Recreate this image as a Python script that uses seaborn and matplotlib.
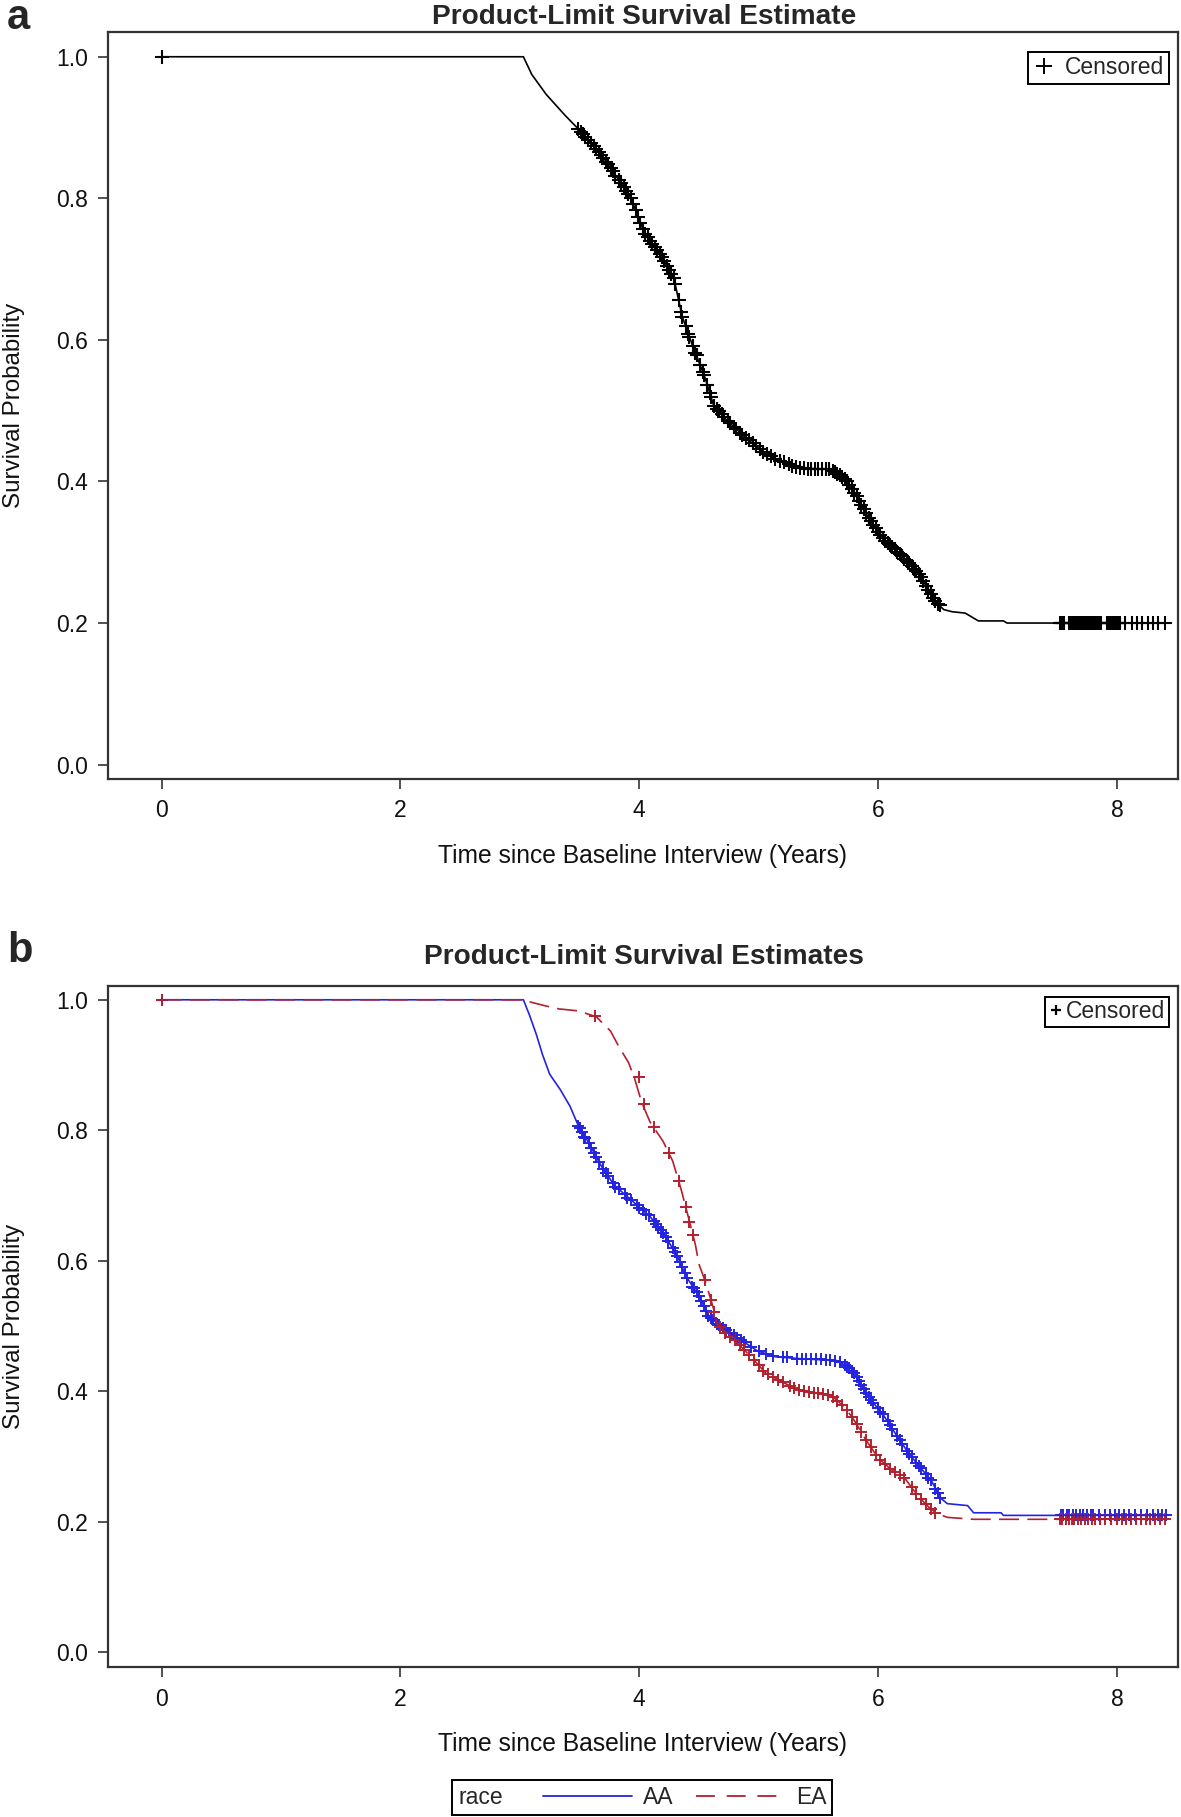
import numpy as np
import matplotlib
matplotlib.use("Agg")
import matplotlib.pyplot as plt
import seaborn as sns
from matplotlib.lines import Line2D
from matplotlib.offsetbox import HPacker

# ---- panel a: overall Kaplan-Meier estimate ----
time_a = [0, 3.03, 3.10, 3.22, 3.38, 3.49, 3.60, 3.71, 3.82, 3.93, 4.04, 4.18, 4.29, 4.36,
          4.44, 4.55, 4.62, 4.73, 4.87, 5.02, 5.16, 5.35, 5.60, 5.71, 5.82, 5.93, 6.07, 6.25,
          6.36, 6.47, 6.55, 6.62, 6.73, 6.80, 6.84, 7.05, 7.08, 8.41]
surv_a = [1.0, 1.0, 0.975, 0.947, 0.917, 0.898, 0.878, 0.855, 0.828, 0.801, 0.752, 0.720, 0.687, 0.633,
          0.595, 0.547, 0.509, 0.487, 0.465, 0.444, 0.430, 0.419, 0.417, 0.406, 0.379, 0.346, 0.314, 0.287,
          0.265, 0.232, 0.219, 0.216, 0.214, 0.207, 0.203, 0.203, 0.200, 0.200]

# censored observations, panel a
cens_a_t = [0, 3.49, 3.53, 3.57, 3.62, 3.66, 3.70, 3.74, 3.78, 3.83, 3.87, 3.91, 3.95, 3.99, 4.03,
            4.07, 4.11, 4.15, 4.19, 4.23, 4.27, 4.30, 4.33, 4.36, 4.39, 4.42, 4.45, 4.48, 4.51,
            4.54, 4.57, 4.60, 4.63, 4.67, 4.71, 4.76, 4.81, 4.86, 4.92, 4.98, 5.04, 5.10, 5.18,
            5.25, 5.31, 5.38, 5.44, 5.50, 5.56, 5.62, 5.66, 5.70, 5.74, 5.78, 5.82, 5.86, 5.90,
            5.94, 5.98, 6.02, 6.06, 6.10, 6.14, 6.18, 6.22, 6.26, 6.30, 6.34, 6.38, 6.42, 6.46,
            6.50,
            7.52, 7.54, 7.56, 7.60, 7.62, 7.64, 7.67, 7.70, 7.73, 7.76, 7.79, 7.82, 7.85, 7.87,
            7.92, 7.95, 7.98, 8.01, 8.03, 8.07, 8.13, 8.17, 8.21, 8.26, 8.30, 8.34, 8.40]
cens_a_s = [1.0, 0.898, 0.891, 0.883, 0.874, 0.865, 0.857, 0.848, 0.838, 0.826, 0.816, 0.806, 0.792, 0.774, 0.756,
            0.745, 0.736, 0.727, 0.717, 0.705, 0.693, 0.679, 0.656, 0.633, 0.619, 0.604, 0.591, 0.578, 0.564,
            0.551, 0.536, 0.520, 0.507, 0.499, 0.491, 0.482, 0.474, 0.466, 0.458, 0.450, 0.442, 0.436, 0.429,
            0.424, 0.421, 0.419, 0.418, 0.418, 0.417, 0.415, 0.411, 0.407, 0.400, 0.389, 0.379, 0.367, 0.355,
            0.344, 0.334, 0.325, 0.316, 0.310, 0.304, 0.298, 0.291, 0.285, 0.277, 0.269, 0.259, 0.247, 0.235,
            0.227,
            0.200, 0.200, 0.200, 0.200, 0.200, 0.200, 0.200, 0.200, 0.200, 0.200, 0.200, 0.200, 0.200, 0.200,
            0.200, 0.200, 0.200, 0.200, 0.200, 0.200, 0.200, 0.200, 0.200, 0.200, 0.200, 0.200, 0.200]
cens_a2_t = [3.51, 3.55, 3.60, 3.64, 3.68, 3.72, 3.76, 3.80, 3.85, 3.89, 3.93, 3.97, 4.01, 4.05,
             4.09, 4.13, 4.17, 4.21, 4.25, 4.29, 4.35, 4.41, 4.47, 4.53, 4.59, 4.65, 4.69, 4.74,
             4.79, 4.84, 4.89, 4.95, 5.01, 5.07, 5.14, 5.21, 5.28, 5.35, 5.41, 5.47, 5.53, 5.59,
             5.64, 5.68, 5.72, 5.76, 5.80, 5.84, 5.88, 5.92, 5.96, 6.00, 6.04, 6.08, 6.12, 6.16,
             6.20, 6.24, 6.28, 6.32, 6.36, 6.40, 6.44, 6.48, 6.52,
             7.53, 7.55, 7.61, 7.63, 7.66, 7.68, 7.69, 7.71, 7.72, 7.74, 7.75, 7.77, 7.78, 7.80,
             7.81, 7.83, 7.84, 7.86, 7.93, 7.94, 7.96, 7.97, 7.99, 8.00, 8.02]
cens_a2_s = [0.894, 0.887, 0.878, 0.870, 0.861, 0.852, 0.843, 0.832, 0.821, 0.811, 0.800, 0.783, 0.765, 0.750,
             0.740, 0.731, 0.722, 0.711, 0.699, 0.687, 0.640, 0.609, 0.582, 0.555, 0.525, 0.503, 0.495, 0.486,
             0.477, 0.469, 0.462, 0.454, 0.446, 0.439, 0.432, 0.427, 0.422, 0.419, 0.418, 0.418, 0.418, 0.417,
             0.413, 0.409, 0.404, 0.395, 0.384, 0.373, 0.361, 0.349, 0.339, 0.329, 0.320, 0.313, 0.307, 0.301,
             0.295, 0.288, 0.281, 0.273, 0.265, 0.253, 0.241, 0.231, 0.225,
             0.200, 0.200, 0.200, 0.200, 0.200, 0.200, 0.200, 0.200, 0.200, 0.200, 0.200, 0.200, 0.200, 0.200,
             0.200, 0.200, 0.200, 0.200, 0.200, 0.200, 0.200, 0.200, 0.200, 0.200, 0.200]

# ---- panel b: by race ----
time_aa = [0, 3.03, 3.08, 3.14, 3.19, 3.25, 3.34, 3.42, 3.49, 3.57, 3.68, 3.79, 3.94, 4.09, 4.20,
           4.32, 4.39, 4.50, 4.58, 4.69, 4.84, 4.99, 5.14, 5.36, 5.66, 5.78, 5.85, 5.93, 6.04, 6.15,
           6.26, 6.37, 6.45, 6.52, 6.58, 6.75, 6.80, 7.03, 7.05, 8.41]
surv_aa = [1.0, 1.0, 0.977, 0.946, 0.916, 0.886, 0.862, 0.837, 0.807, 0.783, 0.746, 0.716, 0.692, 0.668, 0.643,
           0.607, 0.577, 0.546, 0.516, 0.498, 0.480, 0.462, 0.453, 0.450, 0.447, 0.434, 0.413, 0.389, 0.365, 0.334,
           0.304, 0.280, 0.262, 0.237, 0.228, 0.225, 0.214, 0.214, 0.210, 0.210]

time_ea = [0, 3.03, 3.10, 3.23, 3.33, 3.49, 3.64, 3.76, 3.83, 3.91, 3.96, 4.02, 4.09, 4.20, 4.28,
           4.35, 4.41, 4.47, 4.50, 4.56, 4.62, 4.65, 4.73, 4.84, 4.95, 5.06, 5.21, 5.36, 5.59, 5.66,
           5.74, 5.81, 5.89, 6.00, 6.11, 6.22, 6.32, 6.41, 6.49, 6.58, 6.80, 8.41]
surv_ea = [1.0, 1.0, 0.996, 0.990, 0.986, 0.983, 0.974, 0.952, 0.928, 0.904, 0.880, 0.843, 0.813, 0.783, 0.753,
           0.710, 0.668, 0.625, 0.595, 0.565, 0.528, 0.504, 0.489, 0.471, 0.450, 0.428, 0.413, 0.401, 0.395, 0.386,
           0.371, 0.353, 0.328, 0.298, 0.280, 0.268, 0.243, 0.225, 0.213, 0.207, 0.204, 0.204]

cens_aa_t = [0, 3.49, 3.52, 3.55, 3.58, 3.62, 3.66, 3.70, 3.74, 3.78, 3.83, 3.88, 3.93, 3.98, 4.03,
             4.08, 4.12, 4.16, 4.20, 4.24, 4.28, 4.32, 4.36, 4.40, 4.44, 4.48, 4.52, 4.56, 4.60,
             4.65, 4.70, 4.76, 4.82, 4.88, 4.94, 5.00, 5.06, 5.12, 5.20, 5.24, 5.32, 5.36, 5.40,
             5.44, 5.48, 5.52, 5.56, 5.60, 5.64, 5.68, 5.72, 5.76, 5.80, 5.84, 5.88, 5.92, 5.96,
             6.00, 6.04, 6.08, 6.12, 6.16, 6.20, 6.24, 6.28, 6.32, 6.36, 6.40, 6.44, 6.48, 6.52,
             3.50, 3.54, 3.60, 3.64, 3.72, 3.80, 3.90, 4.00, 4.06, 4.14, 4.18, 4.22, 4.30, 4.34,
             4.38, 4.46, 4.50, 4.54, 4.58, 4.62, 4.67, 4.73, 4.79, 4.85, 5.74, 5.78, 5.82, 5.86,
             5.90, 5.94, 6.02, 6.10, 6.18, 6.26, 6.34, 6.42, 6.50,
             7.53, 7.55, 7.58, 7.60, 7.63, 7.66, 7.69, 7.72, 7.75, 7.78, 7.80, 7.85, 7.90, 7.94,
             7.98, 8.02, 8.06, 8.10, 8.15, 8.20, 8.25, 8.30, 8.34, 8.38, 8.41]
cens_aa_s = [1.0, 0.807, 0.797, 0.788, 0.780, 0.766, 0.752, 0.741, 0.730, 0.719, 0.710, 0.702, 0.694, 0.686, 0.678,
             0.670, 0.661, 0.652, 0.643, 0.631, 0.619, 0.607, 0.590, 0.573, 0.560, 0.552, 0.538, 0.523, 0.513,
             0.504, 0.497, 0.490, 0.482, 0.475, 0.468, 0.462, 0.458, 0.454, 0.452, 0.452, 0.450, 0.450, 0.450,
             0.449, 0.449, 0.449, 0.448, 0.448, 0.447, 0.445, 0.440, 0.436, 0.428, 0.416, 0.404, 0.392, 0.382,
             0.374, 0.365, 0.354, 0.342, 0.331, 0.320, 0.309, 0.300, 0.291, 0.282, 0.273, 0.264, 0.251, 0.237,
             0.804, 0.790, 0.773, 0.759, 0.735, 0.713, 0.697, 0.681, 0.672, 0.656, 0.648, 0.637, 0.613, 0.598,
             0.581, 0.558, 0.546, 0.531, 0.516, 0.509, 0.501, 0.494, 0.487, 0.479, 0.438, 0.432, 0.422, 0.410,
             0.398, 0.387, 0.369, 0.349, 0.326, 0.304, 0.286, 0.268, 0.244,
             0.210, 0.210, 0.210, 0.210, 0.210, 0.210, 0.210, 0.210, 0.210, 0.210, 0.210, 0.210, 0.210, 0.210,
             0.210, 0.210, 0.210, 0.210, 0.210, 0.210, 0.210, 0.210, 0.210, 0.210, 0.210]

cens_ea_t = [0, 3.63, 4.00, 4.04, 4.12, 4.25, 4.33, 4.39, 4.42, 4.45, 4.55, 4.60, 4.63,
             4.68, 4.72, 4.76, 4.80, 4.84, 4.88, 4.92, 4.96, 5.00, 5.04, 5.08, 5.12, 5.16, 5.20,
             5.26, 5.30, 5.34, 5.38, 5.42, 5.46, 5.50, 5.54, 5.58, 5.62, 5.66, 5.70, 5.74, 5.78,
             5.82, 5.86, 5.90, 5.94, 5.98, 6.02, 6.06, 6.10, 6.14, 6.18, 6.22, 6.28, 6.32, 6.36,
             6.40, 6.44, 6.48,
             7.52, 7.54, 7.57, 7.60, 7.62, 7.64, 7.67, 7.70, 7.73, 7.76, 7.79, 7.82, 7.86, 7.90,
             7.95, 8.00, 8.04, 8.08, 8.12, 8.16, 8.20, 8.24, 8.28, 8.32, 8.36, 8.40]
cens_ea_s = [1.0, 0.975, 0.882, 0.840, 0.805, 0.765, 0.722, 0.683, 0.660, 0.640, 0.570, 0.540, 0.522,
             0.498, 0.490, 0.484, 0.478, 0.471, 0.464, 0.456, 0.448, 0.440, 0.432, 0.426, 0.422, 0.418, 0.414,
             0.409, 0.405, 0.402, 0.400, 0.399, 0.398, 0.397, 0.396, 0.395, 0.391, 0.386, 0.379, 0.371, 0.361,
             0.350, 0.338, 0.326, 0.315, 0.303, 0.295, 0.288, 0.281, 0.277, 0.272, 0.268, 0.253, 0.243, 0.235,
             0.227, 0.220, 0.214,
             0.204, 0.204, 0.204, 0.204, 0.204, 0.204, 0.204, 0.204, 0.204, 0.204, 0.204, 0.204, 0.204, 0.204,
             0.204, 0.204, 0.204, 0.204, 0.204, 0.204, 0.204, 0.204, 0.204, 0.204, 0.204, 0.204]

x_ticks = [0, 2, 4, 6, 8]
y_ticks = [0.0, 0.2, 0.4, 0.6, 0.8, 1.0]

blue = '#2424e0'
red = '#b3202e'

sns.set_style('ticks')
plt.rcParams['font.family'] = ['Liberation Sans', 'DejaVu Sans']

fig = plt.figure(figsize=(11.81, 18.17), dpi=100)
ax_a = fig.add_axes([0.0913, 0.5714, 0.906, 0.411])
ax_b = fig.add_axes([0.0913, 0.0823, 0.906, 0.375])


def style_axes(ax, ylim, xlab_y):
  # common look for both panels (SAS-like frame)
  ax.set_xlim(-0.45, 8.51)
  ax.set_ylim(*ylim)
  ax.set_xticks(x_ticks)
  ax.set_xticklabels([str(v) for v in x_ticks])
  ax.set_yticks(y_ticks)
  ax.set_yticklabels(['%.1f' % v for v in y_ticks])
  ax.tick_params(axis='both', direction='out', length=7.5, width=1.1, pad=7,
                 labelsize=16.5, color='#222222', labelcolor='#111111')
  for sp in ax.spines.values():
    sp.set_visible(True)
    sp.set_color('#333333')
    sp.set_linewidth(1.6)
  ax.set_xlabel('Time since Baseline Interview (Years)', fontsize=17.7, color='#111111')
  ax.set_ylabel('Survival Probability', fontsize=17.4, color='#111111')
  ax.xaxis.set_label_coords(0.5, xlab_y)
  ax.yaxis.set_label_coords(-0.077, 0.5)


# panel a
sns.lineplot(x=time_a, y=surv_a, ax=ax_a, color='black', linewidth=1.2, estimator=None, sort=False)
sns.scatterplot(x=cens_a_t, y=cens_a_s, ax=ax_a, marker='+', s=95, color='black', linewidth=1.5)
sns.scatterplot(x=cens_a2_t, y=cens_a2_s, ax=ax_a, marker='+', s=95, color='black', linewidth=1.5)
style_axes(ax_a, (-0.02, 1.035), -0.087)
cens_handle = Line2D([], [], marker='+', linestyle='none', color='black', markersize=11, markeredgewidth=1.4)
ax_a.legend([cens_handle], ['Censored'], loc='upper right', bbox_to_anchor=(0.9913, 0.9736),
            borderaxespad=0, fontsize=16.5, frameon=True, fancybox=False, edgecolor='black',
            framealpha=1, handletextpad=0.4, handlelength=1.0, borderpad=0.2)
ax_a.get_legend().get_frame().set_linewidth(1.4)

# panel b
sns.lineplot(x=time_aa, y=surv_aa, ax=ax_b, color=blue, linewidth=1.2, estimator=None, sort=False)
sns.lineplot(x=time_ea, y=surv_ea, ax=ax_b, color=red, linewidth=1.2, estimator=None, sort=False,
             linestyle=(0, (12, 5)))
sns.scatterplot(x=cens_aa_t, y=cens_aa_s, ax=ax_b, marker='+', s=70, color=blue, linewidth=1.4)
sns.scatterplot(x=cens_ea_t, y=cens_ea_s, ax=ax_b, marker='+', s=70, color=red, linewidth=1.4)
style_axes(ax_b, (-0.023, 1.021), -0.095)
cens_handle_b = Line2D([], [], marker='+', linestyle='none', color='black', markersize=7, markeredgewidth=1.6)
ax_b.legend([cens_handle_b], ['Censored'], loc='upper right', bbox_to_anchor=(0.9913, 0.9845),
            borderaxespad=0, fontsize=16.5, frameon=True, fancybox=False, edgecolor='black',
            framealpha=1, handletextpad=0.15, handlelength=0.6, borderpad=0.15)
ax_b.get_legend().get_frame().set_linewidth(1.4)

# bottom legend: "race  —— AA  - - - EA"
h_aa = Line2D([], [], color=blue, linewidth=1.3)
h_ea = Line2D([], [], color=red, linewidth=1.3, linestyle=(0, (10.5, 6.5)))
leg = fig.legend([h_aa, h_ea], ['AA', 'EA'], title='race', ncol=2, loc='center',
                 bbox_to_anchor=(0.5437, 0.0108), fontsize=16.5, title_fontsize=16.5,
                 frameon=True, fancybox=False, edgecolor='black', framealpha=1,
                 handlelength=3.9, handletextpad=0.45, columnspacing=1.0, borderpad=0.25)
leg.get_frame().set_linewidth(1.4)
# put the legend title on the same row as the entries
title_box = leg._legend_title_box
handle_box = leg._legend_handle_box
row = HPacker(pad=0, sep=29, align='center', children=[title_box, handle_box])
row.set_figure(fig)
leg._legend_box._children = [row]

# titles and panel letters
fig.text(0.545, 0.9905, 'Product-Limit Survival Estimate', ha='center', va='center',
         fontsize=20.2, fontweight='bold')
fig.text(0.545, 0.4733, 'Product-Limit Survival Estimates', ha='center', va='center',
         fontsize=20.2, fontweight='bold')
fig.text(0.006, 0.9840, 'a', ha='left', va='baseline', fontsize=30, fontweight='bold')
fig.text(0.006, 0.4706, 'b', ha='left', va='baseline', fontsize=30, fontweight='bold')

fig.savefig('out.png', dpi=100)
